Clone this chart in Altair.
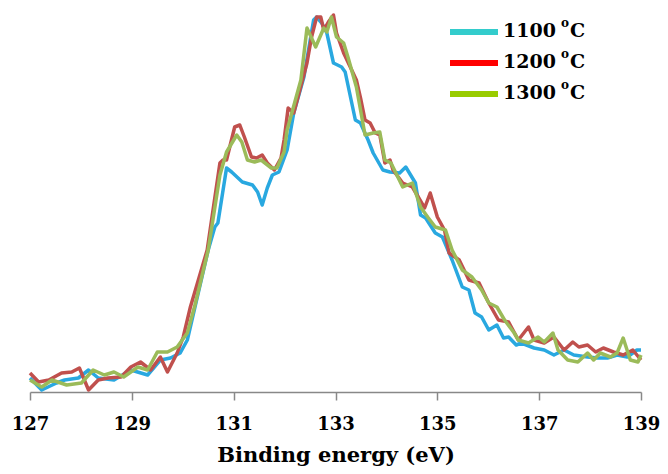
import altair as alt
import pandas as pd

# ---- data ----
series = ["1100", "1200", "1300"]
line_colors = ["#29A8E0", "#C0504D", "#9BBB59"]
legend_colors = ["#33CCCC", "#FF0000", "#99CC00"]
tick_values = [127, 129, 131, 133, 135, 137, 139]

x_1100 = [127.00, 127.23, 127.52, 127.68, 127.95, 128.15, 128.34, 128.65, 128.98, 129.31,
          129.56, 129.76, 129.95, 130.09, 130.24, 130.50, 130.63, 130.69, 130.86, 130.96,
          131.17, 131.37, 131.47, 131.56, 131.66, 131.76, 131.89, 132.05, 132.18, 132.38,
          132.57, 132.63, 132.73, 132.83, 132.96, 133.12, 133.19, 133.39, 133.49, 133.64,
          133.74, 133.93, 134.07, 134.26, 134.38, 134.57, 134.67, 134.77, 134.96, 135.10,
          135.29, 135.49, 135.62, 135.74, 135.87, 136.01, 136.17, 136.30, 136.40, 136.55,
          136.65, 136.90, 137.10, 137.29, 137.49, 137.68, 137.95, 138.15, 138.34, 138.53,
          138.73, 138.92, 139.00]
y_1100 = [14, 2, 9, 12, 14, 22, 14, 12, 22, 17,
          32, 34, 39, 52, 85, 142, 165, 169, 224, 220,
          210, 207, 200, 187, 204, 217, 220, 242, 279, 315,
          372, 375, 369, 359, 329, 325, 320, 272, 269, 252,
          239, 222, 220, 219, 225, 209, 177, 174, 159, 155,
          132, 105, 102, 79, 75, 62, 67, 54, 55, 47,
          49, 44, 42, 37, 42, 37, 35, 34, 34, 37,
          35, 42, 42]

x_1200 = [127.00, 127.17, 127.37, 127.62, 127.82, 127.97, 128.15, 128.34, 128.53, 128.79,
          128.98, 129.17, 129.37, 129.56, 129.70, 129.89, 130.01, 130.15, 130.48, 130.73,
          130.79, 130.86, 131.02, 131.12, 131.21, 131.35, 131.45, 131.56, 131.66, 131.80,
          131.93, 131.99, 132.07, 132.18, 132.44, 132.53, 132.63, 132.71, 132.77, 132.86,
          132.96, 133.02, 133.16, 133.29, 133.41, 133.50, 133.58, 133.68, 133.78, 133.87,
          133.97, 134.07, 134.13, 134.32, 134.51, 134.75, 134.86, 135.00, 135.14, 135.23,
          135.43, 135.62, 135.82, 136.01, 136.20, 136.40, 136.59, 136.79, 136.90, 137.10,
          137.29, 137.49, 137.66, 137.78, 137.95, 138.11, 138.26, 138.46, 138.65, 138.84,
          139.00]
y_1200 = [19, 10, 12, 19, 20, 24, 2, 12, 14, 15,
          25, 30, 22, 35, 20, 39, 55, 85, 142, 229,
          232, 232, 265, 267, 255, 235, 234, 237, 229, 222,
          234, 252, 284, 279, 329, 355, 375, 375, 362, 370,
          377, 359, 339, 325, 312, 292, 272, 269, 259, 257,
          229, 232, 222, 209, 205, 184, 199, 175, 162, 139,
          132, 112, 109, 89, 72, 70, 52, 65, 52, 49,
          55, 42, 50, 45, 47, 40, 44, 40, 37, 42,
          32]

x_1300 = [127.00, 127.23, 127.43, 127.72, 128.01, 128.24, 128.46, 128.65, 128.84, 129.12,
          129.31, 129.50, 129.70, 129.89, 130.09, 130.24, 130.50, 130.73, 130.86, 131.06,
          131.16, 131.27, 131.41, 131.54, 131.74, 131.85, 131.99, 132.05, 132.32, 132.44,
          132.61, 132.77, 132.83, 132.92, 133.02, 133.16, 133.25, 133.41, 133.58, 133.74,
          133.87, 133.97, 134.09, 134.32, 134.51, 134.67, 134.81, 134.96, 135.16, 135.29,
          135.49, 135.68, 135.87, 136.01, 136.17, 136.32, 136.51, 136.59, 136.79, 136.98,
          137.10, 137.27, 137.37, 137.56, 137.76, 137.95, 138.07, 138.20, 138.40, 138.53,
          138.65, 138.79, 138.94, 139.00]
y_1300 = [12, 5, 12, 7, 9, 22, 17, 20, 15, 25,
          22, 40, 40, 45, 59, 87, 142, 217, 240, 257,
          250, 232, 230, 232, 224, 224, 240, 262, 312, 364,
          345, 364, 360, 375, 355, 349, 334, 305, 257, 259,
          260, 232, 229, 205, 209, 185, 175, 165, 162, 142,
          122, 115, 102, 89, 85, 72, 59, 52, 49, 55,
          50, 59, 42, 32, 30, 39, 32, 39, 35, 39,
          54, 32, 30, 37]

# ---- build tables ----
rows = []
for name, xs, ys in [("1100", x_1100, y_1100), ("1200", x_1200, y_1200), ("1300", x_1300, y_1300)]:
    for e, i in zip(xs, ys):
        rows.append({"series": name, "E": e, "I": i})
df = pd.DataFrame(rows)

legend_df = pd.DataFrame({"num": series, "color": legend_colors, "row": [0, 1, 2]})

FONT = "DejaVu Serif"

lines = alt.Chart(df).mark_line(strokeWidth=3.5, strokeJoin="round").encode(
    x=alt.X("E:Q",
            scale=alt.Scale(domain=[127, 139], nice=False, zero=False),
            axis=alt.Axis(values=tick_values, title="Binding energy (eV)", grid=False,
                          format="d", labelFlush=False)),
    y=alt.Y("I:Q", scale=alt.Scale(domain=[0, 380], nice=False), axis=None),
    color=alt.Color("series:N", scale=alt.Scale(domain=series, range=line_colors), legend=None),
)

row_y = alt.Y("row:O", axis=None, scale=alt.Scale(type="point", range=[20, 82], padding=0))

leg_rule = alt.Chart(legend_df).mark_rule(strokeWidth=6).encode(
    x=alt.value(420), x2=alt.value(468), y=row_y,
    color=alt.Color("color:N", scale=None),
)
leg_num = alt.Chart(legend_df).mark_text(
    align="left", baseline="alphabetic", dy=5, font=FONT, fontWeight="bold", fontSize=19, color="black"
).encode(x=alt.value(473), y=row_y, text="num:N")
leg_o = alt.Chart(legend_df).mark_text(
    align="left", baseline="alphabetic", dy=-5, font=FONT, fontWeight="bold", fontSize=12, color="black"
).encode(x=alt.value(531), y=row_y, text=alt.value("o"))
leg_c = alt.Chart(legend_df).mark_text(
    align="left", baseline="alphabetic", dy=5, font=FONT, fontWeight="bold", fontSize=19, color="black"
).encode(x=alt.value(540), y=row_y, text=alt.value("C"))

legend = alt.layer(leg_rule, leg_num, leg_o, leg_c)

chart = alt.layer(lines, legend).resolve_scale(y="independent", color="independent").properties(
    width=611, height=380,
    autosize=alt.AutoSizeParams(type="none"),
    padding={"left": 22, "top": 4, "right": 19, "bottom": 74},
).configure_view(stroke=None).configure_axis(
    domainColor="#888888", domainWidth=1.5, tickColor="#888888", tickWidth=1.5, tickSize=8,
    labelFont=FONT, labelFontWeight="bold", labelFontSize=18, labelColor="black", labelPadding=15,
    titleFont=FONT, titleFontWeight="bold", titleFontSize=21, titleColor="black", titlePadding=11,
)

chart.save("out.html", embed_options={"renderer": "svg", "actions": False})
